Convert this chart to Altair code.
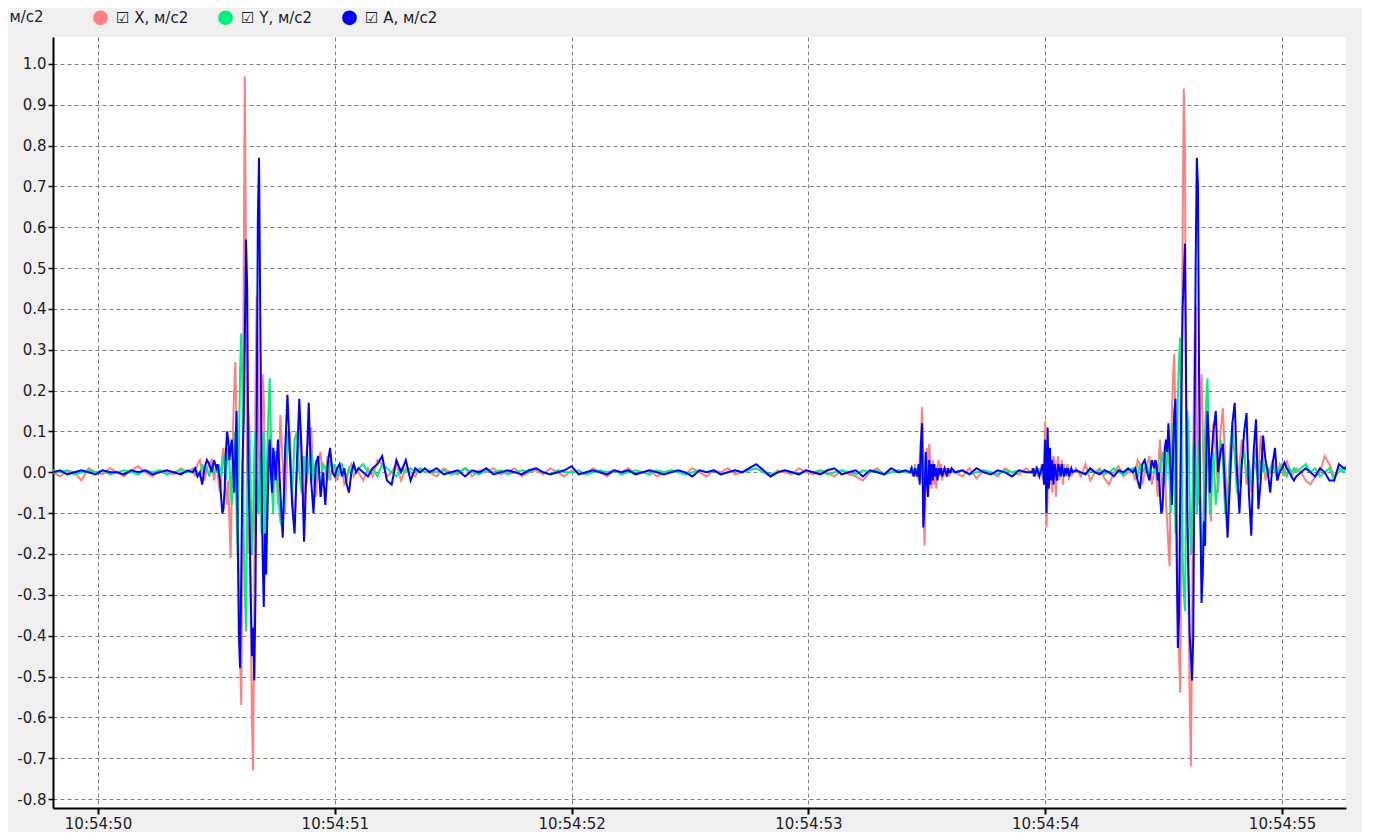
import altair as alt
import pandas as pd

# ---- sampling segments (start second within 10:54:xx, step in seconds) ----
SEG_START = [49.81, 50.40, 50.50, 50.75, 51.10, 51.40, 53.43, 53.62, 53.94, 54.13, 54.37, 54.46, 54.71, 55.06]
SEG_STEP = [0.03, 0.01, 0.005, 0.01, 0.02, 0.03, 0.005, 0.03, 0.005, 0.02, 0.01, 0.005, 0.01, 0.02]

SERIES = ["X, м/с2", "Y, м/с2", "A, м/с2"]
COLORS = ["#ff8080", "#00f07a", "#0000ff"]

X_VALUES = [
    [0.0, -0.01, 0.005, 0.0, -0.02, 0.01, 0.0, -0.005, 0.01, 0.0, -0.01, 0.005, 0.015, 0.0, -0.01, 0.005, 0.0, -0.005, 0.01, 0.0],
    [0.01, -0.01, 0.02, 0.03, 0.0, -0.02, 0.01, 0.02, 0.03, -0.02],
    [0.02, 0.0, -0.03, -0.05, -0.02, 0.04, 0.06, 0.02, -0.05, -0.08,
     -0.02, -0.12, -0.21, -0.05, 0.10, 0.20, 0.27, 0.12, -0.10, -0.30,
     -0.45, -0.57, -0.20, 0.45, 0.97, 0.50, -0.05, -0.20, -0.12, -0.35,
     -0.60, -0.73, -0.30, 0.20, 0.43, 0.30, 0.05, -0.10, 0.05, 0.24,
     0.18, 0.0, -0.10, -0.12, -0.02, 0.08, 0.10, 0.02, -0.04, 0.05],
    [0.05, -0.08, 0.14, 0.02, -0.10, 0.06, 0.10, -0.05, -0.13, 0.02, 0.11, 0.0, -0.10, 0.05, 0.08, 0.11, -0.02, -0.06,
     0.03, 0.05, -0.03, 0.0, 0.04, -0.02, 0.02, 0.01, -0.02, 0.0, 0.01, -0.03, -0.02, 0.01, 0.02, -0.01, 0.0],
    [0.0, -0.02, 0.01, -0.01, 0.03, 0.02, -0.01, 0.0, 0.02, -0.02, 0.01, 0.0, -0.01, 0.01, 0.0],
    [0.0, -0.01, 0.01, 0.0, -0.005, 0.01, -0.01, 0.005, 0.0, 0.01, -0.005, 0.0, 0.01, -0.01, 0.0, 0.005, -0.005, 0.01, 0.0, -0.01,
     0.005, 0.0, -0.005, 0.01, 0.0, -0.01, 0.005, 0.0, 0.01, -0.005, 0.0, 0.005, -0.01, 0.0, 0.005, 0.0, -0.005, 0.01, 0.0, -0.01,
     0.005, 0.0, 0.01, -0.005, 0.0, 0.005, 0.01, 0.0, -0.01, 0.005, 0.0, -0.005, 0.01, 0.0, -0.005, 0.005, 0.0, -0.01, 0.005, -0.005,
     -0.01, -0.02, 0.0, 0.01, -0.005, 0.0, 0.005, 0.0],
    [0.0, 0.01, -0.01, 0.0, 0.02, -0.01, 0.01, -0.02, 0.03, 0.08, 0.16, -0.05, -0.18, -0.05, 0.06, -0.06, 0.07, 0.02,
     -0.04, 0.03, -0.03, 0.02, -0.04, 0.01, 0.03, -0.01, 0.02, -0.02, 0.01, 0.0, -0.01, 0.01, 0.0, -0.01, 0.01, 0.0],
    [0.0, -0.01, 0.01, -0.015, 0.005, 0.0, -0.01, 0.01, 0.0, -0.005, 0.01],
    [0.0, 0.01, -0.01, 0.0, 0.01, 0.0, -0.01, 0.01, 0.0, 0.02, -0.02, 0.04, 0.125, -0.135, -0.06, 0.05, -0.03, 0.02,
     -0.05, 0.04, 0.03, -0.06, 0.02, 0.04, -0.02, 0.01, 0.03, -0.03, 0.02, -0.01, 0.01, 0.02, -0.02, 0.01, -0.01, 0.0],
    [0.01, -0.01, 0.02, -0.02, 0.0, 0.01, -0.015, -0.03, 0.0, 0.015, -0.01, 0.0],
    [0.0, -0.02, 0.03, 0.02, -0.03, 0.0, 0.02, 0.04, -0.03],
    [0.0, 0.03, -0.02, -0.06, 0.04, 0.08, 0.02, -0.05, -0.03, 0.06,
     -0.08, -0.12, -0.18, -0.23, 0.0, 0.15, 0.24, 0.29, 0.10, -0.15,
     -0.35, -0.45, -0.54, -0.10, 0.60, 0.94, 0.79, 0.10, -0.15, -0.32,
     -0.55, -0.72, -0.40, 0.05, 0.30, 0.41, 0.15, -0.08, 0.05, 0.18,
     0.24, 0.10, -0.05, -0.10, 0.02, 0.08, -0.03, -0.08, -0.12, 0.05],
    [0.12, 0.05, -0.05, 0.10, 0.157, 0.02, -0.12, -0.03, 0.08, 0.05, -0.04, 0.02, 0.08, 0.06, -0.03, 0.03, -0.05, 0.02,
     0.06, 0.0, 0.09, 0.03, -0.02, 0.01, 0.0, 0.03, 0.01, -0.02, 0.02, 0.01, -0.01, 0.03, 0.01, -0.01, 0.0],
    [0.01, 0.0, -0.02, -0.03, -0.01, 0.0, 0.04, 0.02, -0.01, 0.0, 0.01, 0.02],
]

Y_VALUES = [
    [0.005, 0.0, 0.005, -0.005, 0.0, 0.005, 0.0, 0.005, -0.005, 0.0, 0.005, 0.0, -0.005, 0.005, 0.0, 0.005, -0.005, 0.0, 0.005, 0.0],
    [0.0, 0.01, 0.0, -0.01, 0.02, 0.0, 0.01, -0.01, 0.02, 0.0],
    [0.01, 0.0, 0.02, 0.01, -0.01, 0.02, 0.04, 0.01, -0.02, 0.03,
     0.06, 0.02, -0.04, -0.08, 0.02, 0.10, 0.05, -0.10, -0.20, 0.05,
     0.25, 0.34, 0.20, -0.15, -0.30, -0.39, -0.10, 0.15, 0.10, -0.05,
     -0.20, -0.12, 0.05, 0.10, 0.0, -0.10, -0.05, 0.05, -0.15, -0.05,
     0.10, -0.25, -0.10, 0.05, 0.15, 0.23, 0.10, -0.05, -0.10, 0.02],
    [0.05, -0.05, -0.12, -0.14, 0.02, 0.10, 0.04, -0.06, 0.08, 0.10, 0.0, -0.05, 0.04, -0.03, 0.02, 0.06, -0.02, 0.03,
     0.0, -0.04, 0.02, 0.01, -0.02, 0.03, 0.0, 0.02, -0.01, 0.01, 0.02, 0.0, -0.01, 0.01, 0.0, 0.02, 0.0],
    [0.01, 0.02, 0.0, 0.01, -0.01, 0.02, 0.01, 0.0, -0.01, 0.01, 0.0, 0.01, 0.0, 0.01, 0.0],
    [0.005, 0.0, 0.005, -0.005, 0.0, 0.01, 0.0, -0.005, 0.005, 0.0, 0.005, -0.005, 0.0, 0.005, 0.0, 0.01, 0.0, -0.005, 0.005, 0.0,
     0.0, 0.005, -0.005, 0.0, 0.005, 0.0, 0.005, -0.005, 0.0, 0.005, 0.0, -0.005, 0.005, 0.0, 0.005, 0.0, -0.005, 0.0, 0.005, 0.0,
     0.005, -0.005, 0.0, 0.005, 0.0, 0.005, 0.01, 0.0, -0.005, 0.0, 0.005, 0.0, -0.005, 0.005, 0.0, 0.005, -0.005, 0.0, 0.005, 0.0,
     -0.005, 0.005, 0.0, 0.005, -0.005, 0.0, 0.005, 0.0],
    [0.0, 0.0, 0.01, 0.0, -0.01, 0.01, 0.0, 0.01, 0.02, -0.02, 0.04, -0.05, -0.03, 0.03, 0.02, -0.02, 0.01, -0.01,
     0.02, 0.0, -0.01, 0.01, 0.0, -0.01, 0.01, 0.0, 0.005, -0.005, 0.0, 0.005, 0.0, -0.005, 0.005, 0.0, 0.0, 0.005],
    [0.0, 0.005, -0.005, 0.0, 0.005, 0.0, -0.005, 0.005, 0.0, 0.005, 0.0],
    [0.0, 0.005, -0.005, 0.0, 0.005, 0.0, 0.005, -0.005, 0.0, 0.01, -0.01, 0.02, 0.03, -0.03, 0.02, -0.02, 0.03, -0.01,
     0.01, -0.02, 0.02, 0.0, -0.01, 0.01, 0.0, 0.01, -0.01, 0.0, 0.01, 0.0, -0.005, 0.005, 0.0, 0.005, 0.0, 0.0],
    [0.005, 0.0, -0.005, 0.005, 0.0, 0.005, -0.005, 0.0, 0.01, 0.0, -0.005, 0.005],
    [0.01, 0.0, -0.01, 0.02, 0.0, 0.01, 0.02, -0.01, 0.0],
    [0.0, 0.01, 0.02, 0.0, -0.02, 0.01, 0.03, 0.05, 0.02, -0.03,
     0.0, 0.04, 0.08, -0.02, -0.10, 0.05, 0.12, 0.03, -0.15, -0.05,
     0.18, 0.28, 0.33, 0.15, -0.20, -0.30, -0.34, -0.05, 0.15, 0.10,
     -0.08, -0.20, -0.10, 0.05, 0.10, 0.02, -0.10, -0.05, 0.08, -0.12,
     -0.20, -0.23, -0.05, 0.10, 0.18, 0.23, 0.10, -0.10, -0.08, 0.02],
    [0.05, -0.08, -0.02, 0.08, 0.03, -0.10, -0.06, 0.05, 0.12, 0.04, -0.05, -0.02, 0.03, 0.05, -0.01, 0.02, -0.03, 0.04,
     0.01, -0.02, 0.03, 0.0, 0.02, -0.01, 0.01, 0.02, 0.0, -0.01, 0.01, 0.02, 0.0, -0.01, 0.01, 0.0, 0.01],
    [0.0, 0.01, 0.02, 0.0, 0.01, -0.01, 0.0, 0.01, -0.02, 0.01, 0.0, 0.02],
]

A_VALUES = [
    [0.0, 0.005, -0.005, 0.0, 0.005, 0.0, -0.005, 0.005, 0.0, 0.0, -0.005, 0.005, 0.0, 0.005, -0.005, 0.0, 0.005, 0.0, -0.005, 0.005],
    [0.0, 0.01, -0.01, 0.0, -0.03, 0.01, 0.03, 0.02, 0.0, 0.03],
    [0.01, 0.02, 0.0, -0.02, -0.06, -0.10, -0.09, -0.04, 0.05, 0.10,
     0.08, 0.03, 0.06, 0.08, 0.02, -0.05, 0.05, 0.15, -0.15, -0.40,
     -0.48, -0.25, 0.02, 0.12, 0.33, 0.57, 0.45, 0.02, -0.12, -0.30,
     -0.45, -0.38, -0.51, -0.30, 0.10, 0.62, 0.77, 0.40, 0.05, -0.20,
     -0.33, -0.15, -0.25, -0.10, 0.02, 0.08, 0.0, -0.05, 0.06, 0.03],
    [-0.02, 0.08, -0.05, -0.16, 0.05, 0.19, 0.05, -0.08, -0.15, 0.02, 0.18, 0.05, -0.17, 0.0, 0.17, -0.02, -0.10, 0.02,
     0.04, -0.06, 0.0, -0.08, 0.02, 0.06, 0.0, -0.01, 0.01, 0.02, -0.01, 0.01, -0.03, -0.05, 0.0, 0.02, 0.0],
    [0.01, 0.0, -0.01, 0.01, 0.02, 0.04, -0.02, -0.03, 0.03, 0.0, 0.03, -0.02, 0.01, 0.0, 0.01],
    [0.0, 0.01, -0.005, 0.0, 0.005, -0.01, 0.005, 0.0, 0.01, -0.005, 0.0, 0.005, 0.0, -0.005, 0.005, 0.01, 0.0, -0.005, 0.0, 0.005,
     0.015, -0.005, 0.0, 0.005, 0.0, -0.005, 0.005, 0.0, 0.005, -0.005, 0.0, 0.005, 0.0, -0.005, 0.0, 0.005, 0.0, -0.01, 0.005, 0.0,
     0.005, -0.005, 0.0, 0.005, 0.0, 0.01, 0.02, 0.005, -0.01, 0.0, 0.005, 0.0, -0.005, 0.005, 0.0, -0.005, 0.005, 0.01, -0.005, 0.0,
     0.005, -0.01, 0.005, 0.0, -0.005, 0.01, 0.0, 0.005],
    [0.0, 0.01, 0.0, -0.01, 0.01, 0.0, -0.01, 0.02, -0.03, 0.07, 0.12, -0.135, -0.08, 0.05, -0.02, -0.06, 0.03, -0.03,
     0.02, -0.02, 0.02, -0.01, 0.01, -0.02, 0.01, 0.0, 0.01, -0.01, 0.0, 0.01, 0.0, -0.01, 0.01, 0.0, 0.0, 0.01],
    [0.0, 0.005, -0.005, 0.01, 0.0, -0.005, 0.005, 0.0, -0.01, 0.005, 0.0],
    [0.0, 0.0, 0.01, -0.01, 0.0, 0.01, 0.0, -0.01, 0.0, 0.01, 0.02, -0.03, 0.08, -0.10, 0.11, -0.04, 0.06, -0.02,
     0.03, -0.03, 0.02, 0.0, -0.02, 0.02, 0.01, -0.01, 0.02, 0.0, -0.01, 0.01, 0.0, 0.01, -0.01, 0.0, 0.01, 0.0],
    [0.005, 0.0, -0.005, 0.01, 0.0, -0.005, 0.005, 0.0, -0.01, 0.005, 0.0, 0.01],
    [0.0, 0.01, -0.02, -0.04, 0.02, 0.03, 0.0, -0.02, 0.03],
    [0.01, 0.03, 0.02, -0.02, 0.0, -0.06, -0.10, -0.09, -0.02, 0.06,
     0.08, 0.05, 0.12, 0.06, 0.0, -0.08, 0.05, 0.15, 0.18, -0.20,
     -0.43, -0.35, -0.05, 0.20, 0.40, 0.48, 0.56, 0.20, -0.10, -0.25,
     -0.40, -0.45, -0.51, -0.40, 0.05, 0.50, 0.77, 0.70, 0.20, -0.10,
     -0.32, -0.25, -0.12, -0.18, 0.05, 0.15, 0.08, -0.05, 0.03, 0.06],
    [0.10, 0.15, 0.0, 0.05, 0.07, -0.05, -0.16, -0.02, 0.12, 0.17, 0.0, -0.10, 0.02, 0.10, 0.145, -0.05, -0.155, 0.05,
     0.13, -0.09, -0.02, 0.09, 0.03, 0.0, -0.05, 0.02, 0.06, -0.02, 0.0, 0.01, 0.024, 0.01, 0.0, -0.01, -0.02],
    [-0.01, 0.0, 0.01, 0.0, -0.01, 0.01, 0.0, -0.02, -0.02, 0.02, 0.01, 0.01],
]

X_TICKS = [50, 51, 52, 53, 54, 55]
X_LABELS = ["10:54:50", "10:54:51", "10:54:52", "10:54:53", "10:54:54", "10:54:55"]
Y_TICKS = [round(-0.8 + 0.1 * i, 1) for i in range(19)]

rows = []
for name, segs in zip(SERIES, [X_VALUES, Y_VALUES, A_VALUES]):
    for start, step, vals in zip(SEG_START, SEG_STEP, segs):
        for i, v in enumerate(vals):
            rows.append({"series": name, "t": round(start + step * i, 4), "v": v})
df = pd.DataFrame(rows)

label_map = "{" + ",".join(f"'{k}':'{l}'" for k, l in zip(X_TICKS, X_LABELS)) + "}"
FONT = "DejaVu Sans"
TEXT = "#1c1c2a"

color = alt.Color(
    "series:N",
    scale=alt.Scale(domain=SERIES, range=COLORS),
    legend=alt.Legend(
        title=None, orient="none", direction="horizontal", legendX=40, legendY=-27,
        symbolType="circle", symbolSize=60, symbolStrokeWidth=7, symbolOpacity=1,
        labelFont=FONT, labelFontSize=15, labelColor=TEXT,
        labelExpr="'\u2611 ' + datum.label", columnPadding=18, labelOffset=8,
    ),
)

x = alt.X(
    "t:Q",
    scale=alt.Scale(domain=[49.81, 55.27], nice=False, zero=False),
    axis=alt.Axis(
        title=None, values=X_TICKS, labelExpr=label_map + "[datum.value]",
        grid=True, gridDash=[4, 3], gridColor="#7f7f7f", gridWidth=1,
        domainColor="#000000", domainWidth=2, tickColor="#000000", tickSize=6, tickWidth=2,
        labelFont=FONT, labelFontSize=15, labelColor=TEXT, labelPadding=2,
    ),
)
y = alt.Y(
    "v:Q",
    scale=alt.Scale(domain=[-0.822, 1.066], nice=False, zero=False),
    axis=alt.Axis(
        title="м/с2", titleAngle=0, titleAlign="left", titleBaseline="alphabetic",
        titleX=-44, titleY=-16, titleFont=FONT, titleFontSize=15,
        titleFontWeight="normal", titleColor=TEXT,
        values=Y_TICKS, labelExpr="replace(format(datum.value, '.1f'), '\u2212', '-')",
        grid=True, gridDash=[4, 3], gridColor="#7f7f7f", gridWidth=1,
        domainColor="#000000", domainWidth=2, tickColor="#000000", tickSize=5, tickWidth=1.5,
        labelFont=FONT, labelFontSize=15, labelColor=TEXT, labelPadding=2,
    ),
)

layers = []
for name in SERIES:
    layers.append(
        alt.Chart(df)
        .transform_filter(alt.datum.series == name)
        .mark_line(strokeWidth=2, clip=True, interpolate="linear")
        .encode(x=x, y=y, color=color, order="t:Q")
    )

chart = (
    alt.layer(*layers)
    .properties(
        width=1293, height=771,
        autosize=alt.AutoSizeParams(type="none"),
        padding={"left": 45, "top": 29, "right": 16, "bottom": 24},
        background="#f0f0f0",
    )
    .configure_view(fill="#ffffff", stroke=None)
)

chart.save("out.html", embed_options={"renderer": "svg", "actions": False})
